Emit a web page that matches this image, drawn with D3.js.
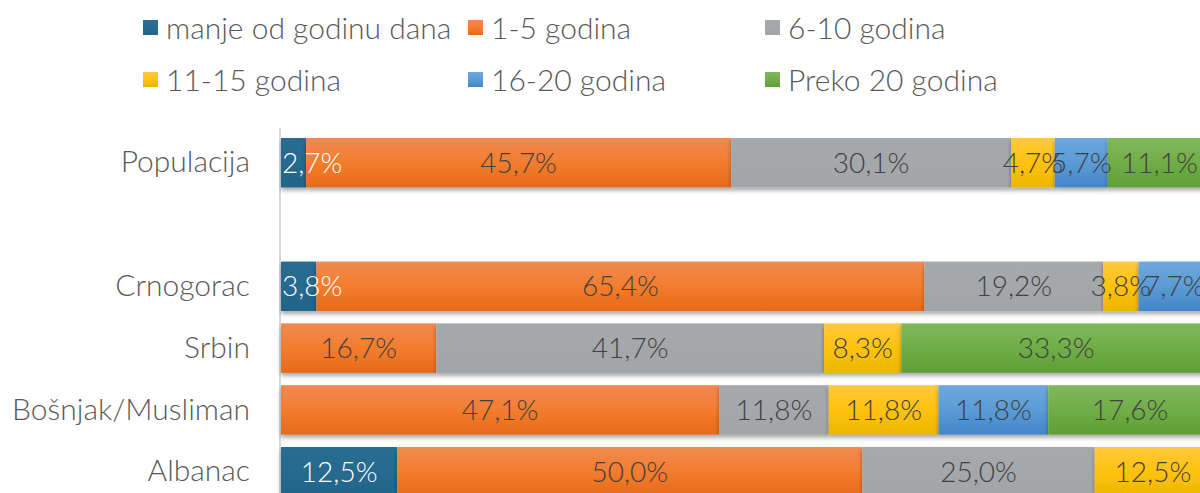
<!DOCTYPE html>
<html>
<head>
<meta charset="utf-8">
<script src="https://cdn.jsdelivr.net/npm/d3@7"></script>
<style>
  body { margin: 0; background: #fff; }
  svg { display: block; font-family: "Lato", "Open Sans", sans-serif; }
</style>
</head>
<body>
<div id="chart"></div>
<script>
const width = 1200,
  height = 493;

// categories (second row is an empty spacer row in the original)
const categories = ["Populacija", " ", "Crnogorac", "Srbin", "Bošnjak/Musliman", "Albanac"];
const seriesNames = ["manje od godinu dana", "1-5 godina", "6-10 godina", "11-15 godina", "16-20 godina", "Preko 20 godina"];

// values in %, one array per series, in category order
const manjeOdGodine = [2.7, 0, 3.8, 0, 0, 12.5];
const godina1do5 = [45.7, 0, 65.4, 16.7, 47.1, 50.0];
const godina6do10 = [30.1, 0, 19.2, 41.7, 11.8, 25.0];
const godina11do15 = [4.7, 0, 3.8, 8.3, 11.8, 12.5];
const godina16do20 = [5.7, 0, 7.7, 0, 11.8, 0];
const preko20 = [11.1, 0, 0, 33.3, 17.6, 0];

const seriesValues = [manjeOdGodine, godina1do5, godina6do10, godina11do15, godina16do20, preko20];

const colors = [
  { top: "#2a6d91", mid: "#266a8e", bot: "#22648a", text: "#ffffff" },
  { top: "#f08a52", mid: "#f37d2e", bot: "#e66a1a", text: "#404040" },
  { top: "#a6a9ac", mid: "#a5a8ab", bot: "#a2a5a8", text: "#404040" },
  { top: "#ffc93c", mid: "#ffc20e", bot: "#eab700", text: "#404040" },
  { top: "#6ea8de", mid: "#5b9bd5", bot: "#4386c8", text: "#404040" },
  { top: "#80b95c", mid: "#70ad47", bot: "#5f9f36", text: "#404040" }
];

// build table for d3.stack
const table = categories.map((c, i) => {
  const row = { cat: c };
  seriesNames.forEach((s, j) => row[s] = seriesValues[j][i]);
  return row;
});

const stacked = d3.stack().keys(seriesNames)(table);

const svg = d3.select("#chart")
  .append("svg")
  .attr("width", width)
  .attr("height", height);

const defs = svg.append("defs");

colors.forEach((c, i) => {
  const g = defs.append("linearGradient")
    .attr("id", "grad" + i)
    .attr("x1", 0).attr("y1", 0).attr("x2", 0).attr("y2", 1);
  g.append("stop").attr("offset", "0%").attr("stop-color", c.top);
  g.append("stop").attr("offset", "50%").attr("stop-color", c.mid);
  g.append("stop").attr("offset", "100%").attr("stop-color", c.bot);
});

const shadow = defs.append("filter")
  .attr("id", "shadow")
  .attr("x", "-5%").attr("y", "-20%")
  .attr("width", "110%").attr("height", "150%");
shadow.append("feDropShadow")
  .attr("dx", 0).attr("dy", 3)
  .attr("stdDeviation", 2)
  .attr("flood-color", "#000")
  .attr("flood-opacity", 0.35);

const x = d3.scaleLinear()
  .domain([0, 100])
  .range([281, 1211]);

const y = d3.scaleBand()
  .domain(categories)
  .range([131.8, 502.6])
  .paddingInner(0.2)
  .paddingOuter(0.1);

// category axis
const yAxis = svg.append("g")
  .attr("transform", "translate(" + 280 + ",0)")
  .call(d3.axisLeft(y).tickSize(0).tickPadding(30));

yAxis.select(".domain")
  .attr("d", "M0," + 128 + "V" + height)
  .attr("stroke", "#d9d9d9")
  .attr("stroke-width", 2);

yAxis.selectAll(".tick text")
  .attr("font-size", 30)
  .attr("font-family", "Lato, 'Open Sans', sans-serif")
  .attr("font-weight", 300)
  .attr("fill", "#595959");

// bars
const layer = svg.append("g")
  .selectAll("g.layer")
  .data(stacked)
  .join("g")
  .attr("class", "layer")
  .attr("fill", (d, i) => "url(#grad" + i + ")");

layer.selectAll("rect")
  .data(d => d.filter(p => p[1] - p[0] > 0))
  .join("rect")
  .attr("x", d => x(d[0]))
  .attr("y", d => y(d.data.cat))
  .attr("width", d => x(d[1]) - x(d[0]))
  .attr("height", y.bandwidth())
  .attr("filter", "url(#shadow)");

// value labels
const fmt = v => v.toFixed(1).replace(".", ",") + "%";

svg.append("g")
  .selectAll("g.lab")
  .data(stacked)
  .join("g")
  .attr("class", "lab")
  .each(function(s, i) {
    d3.select(this)
      .selectAll("text")
      .data(s.filter(p => p[1] - p[0] > 0))
      .join("text")
      .attr("y", d => y(d.data.cat) + y.bandwidth() / 2)
      .attr("dy", "0.36em")
      .attr("text-anchor", "middle")
      .attr("font-size", 28)
      .attr("font-weight", 300)
      .attr("fill", colors[i].text)
      .text(d => fmt(d[1] - d[0]))
      .attr("x", function(d) {
        // keep labels from sticking out left of the plot
        const half = this.getComputedTextLength() / 2;
        const cx = (x(d[0]) + x(d[1])) / 2;
        return Math.max(cx, x(0) + half + 1);
      });
  });

// legend
const legendPos = [
  { x: 143, y: 28 }, { x: 468, y: 28 }, { x: 765, y: 28 },
  { x: 143, y: 80 }, { x: 468, y: 80 }, { x: 765, y: 80 }
];

const legend = svg.append("g")
  .selectAll("g.leg")
  .data(seriesNames)
  .join("g")
  .attr("class", "leg")
  .attr("transform", (d, i) => "translate(" + legendPos[i].x + "," + legendPos[i].y + ")");

legend.append("rect")
  .attr("x", 0)
  .attr("y", -8)
  .attr("width", 15)
  .attr("height", 15)
  .attr("fill", (d, i) => "url(#grad" + i + ")");

legend.append("text")
  .attr("x", 23)
  .attr("y", 0)
  .attr("dy", "0.36em")
  .attr("font-size", 30)
  .attr("font-weight", 300)
  .attr("fill", "#595959")
  .text(d => d);
</script>
</body>
</html>
